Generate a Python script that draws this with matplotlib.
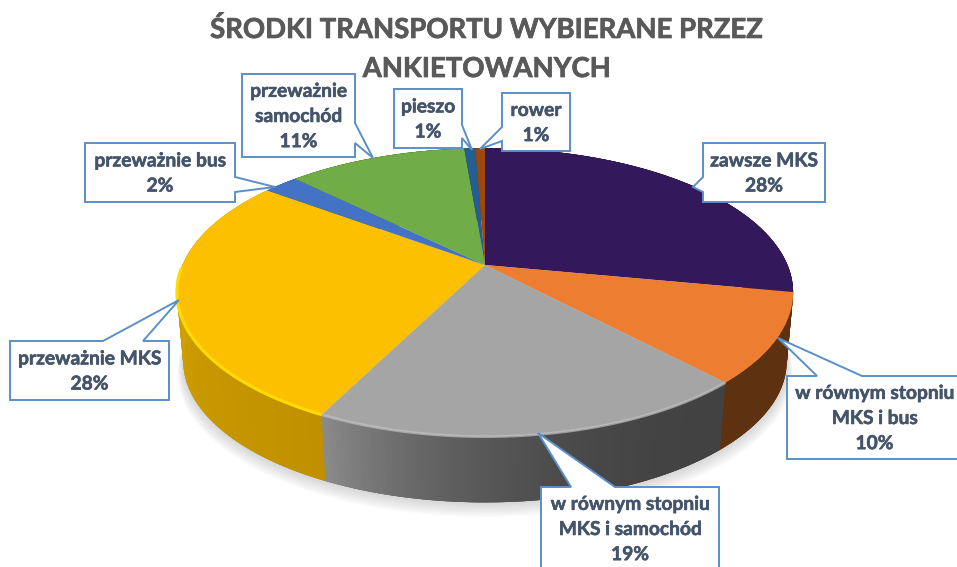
import numpy as np
import matplotlib
matplotlib.use("Agg")
import matplotlib.pyplot as plt
import matplotlib.patheffects as pe

plt.rcParams['font.family'] = ['Lato', 'DejaVu Sans']

title = "ŚRODKI TRANSPORTU WYBIERANE PRZEZ\nANKIETOWANYCH"
# shares, percents as printed on the labels
values = [28, 10, 19.4, 27.8, 2.2, 11.3, 0.7, 0.6]
percents = [28, 10, 19, 28, 2, 11, 1, 1]
names = ["zawsze MKS", "w równym stopniu\nMKS i bus", "w równym stopniu\nMKS i samochód",
         "przeważnie MKS", "przeważnie bus", "przeważnie\nsamochód", "pieszo", "rower"]
top_colors = ["#34185c", "#ed7d31", "#a5a5a5", "#fcc000", "#4472c4", "#70ad47", "#255e91", "#9e480e"]
side_from = ["#1f0e38", "#5e3210", "#424242", "#c09000", "#2a4a80", "#456d2b", "#163a5a", "#5e2c08"]
side_to = ["#1f0e38", "#5e3210", "#8c8c8c", "#dcaa00", "#2a4a80", "#456d2b", "#163a5a", "#5e2c08"]

W, H = 957, 567
cx, cy = 485, 265
a, b, k = 302.5, 139, 0.19


def project(theta, r=1.0, dy=0.0):
    # theta clockwise from 12 o'clock, tilted disc with some perspective
    u = r * np.sin(theta)
    v = r * np.cos(theta)
    w = 1 + k * v
    return cx + a * u / w, cy - b * v / w + dy


def mix(c1, c2, t):
    c1 = np.array(matplotlib.colors.to_rgb(c1))
    c2 = np.array(matplotlib.colors.to_rgb(c2))
    return c1 + (c2 - c1) * t


fig = plt.figure(figsize=(W / 100, H / 100), dpi=100)
ax = fig.add_axes([0, 0, 1, 1])
ax.set_xlim(0, W)
ax.set_ylim(H, 0)
ax.axis("off")

edges = np.cumsum([0] + values) / sum(values) * 2 * np.pi
ring = np.linspace(0, 2 * np.pi, 400)
depth, low_r = 70, 0.98

# soft shadow
for i in range(10):
    x, y = project(ring, low_r + 0.002 * i, depth + 1.2 * i)
    ax.fill(x, y, color="#808080", alpha=0.035, lw=0, zorder=1)

# side wall, in thin strips so the shading runs along it
for i, val in enumerate(values):
    ts = np.linspace(edges[i], edges[i + 1], max(2, int(val * 6) + 1))
    power = 2.5 if i == 2 else 1.0  # the grey stays dark for most of its length
    for j in range(len(ts) - 1):
        t0, t1 = ts[j], ts[j + 1] + 0.02
        x0, y0 = project(np.array([t0, t1]))
        x1, y1 = project(np.array([t1, t0]), low_r, depth)
        col = mix(side_from[i], side_to[i], (j / (len(ts) - 1)) ** power)
        ax.fill(np.r_[x0, x1], np.r_[y0, y1], color=col, lw=0, zorder=2)

# top face
for i, val in enumerate(values):
    ts = np.linspace(edges[i], edges[i + 1], int(val * 6) + 2)
    x, y = project(ts)
    x = np.r_[cx, x]
    y = np.r_[cy, y]
    ax.fill(x, y, color=top_colors[i], lw=0, zorder=3)

# light rim along the front of the yellow and grey slices
ts = np.linspace(edges[3], edges[3] + (edges[4] - edges[3]) * 0.62, 80)
ax.plot(*project(ts), color="#ffdc00", lw=2.2, zorder=4, solid_capstyle="butt")
ts = np.linspace(edges[2], edges[3], 80)
ax.plot(*project(ts), color="#c2c2c2", lw=2.0, alpha=0.7, zorder=4, solid_capstyle="butt")

t = ax.text(487, 49, title, ha="center", va="center", fontsize=19.8, fontweight="bold",
            color="#595959", linespacing=1.62, zorder=9)
t.set_path_effects([pe.withStroke(linewidth=0.5, foreground="#595959")])

# callouts: box left, top, right, bottom, then the pointer base and tip
boxes = [
    (703, 143, 825, 202, [(703, 177), (703, 192)], (693, 187)),
    (787, 376, 962, 459, [(817, 376), (862, 376)], (778, 338)),
    (541, 487, 719, 572, [(571, 487), (615, 487)], (538, 433)),
    (10, 341, 169, 400, [(103, 341), (143, 341)], (179, 300)),
    (85, 143, 235, 202, [(235, 177), (235, 192)], (275, 187)),
    (242, 74, 355, 157, [(355, 123), (355, 143)], (373, 158)),
    (394, 89, 462, 148, [(462, 125), (462, 138)], (472, 150)),
    (502, 93, 570, 151, [(502, 127), (502, 141)], (480, 149)),
]
for i, (l, tp, r, bt, base, tip) in enumerate(boxes):
    (bx0, by0), (bx1, by1) = base
    if by0 == by1 and by0 == tp:
        pts = [(l, tp), (bx0, by0), tip, (bx1, by1), (r, tp), (r, bt), (l, bt)]
    elif bx0 == r:
        pts = [(l, tp), (r, tp), (bx0, by0), tip, (bx1, by1), (r, bt), (l, bt)]
    else:
        pts = [(l, tp), (r, tp), (r, bt), (l, bt), (bx1, by1), tip, (bx0, by0)]
    px, py = zip(*pts)
    ax.fill(px, py, facecolor="white", edgecolor="#5b8fc9", lw=1.4, zorder=6, joinstyle="miter")
    lab = ax.text((l + min(r, W + 6)) / 2, (tp + min(bt, 570)) / 2 + 1, "%s\n%d%%" % (names[i], percents[i]),
                  ha="center", va="center", fontsize=13.8, fontweight="bold", color="#44546a",
                  linespacing=1.58, zorder=7)
    lab.set_path_effects([pe.withStroke(linewidth=0.4, foreground="#44546a")])

fig.savefig("out.png", dpi=100)
